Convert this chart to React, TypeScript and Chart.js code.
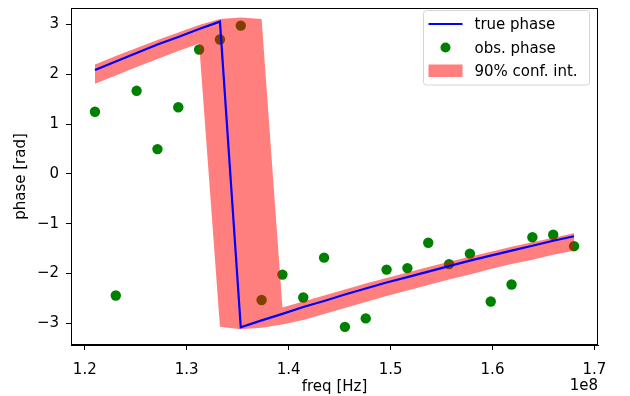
import React, { useEffect, useRef } from 'react';
import { Chart, registerables } from 'chart.js';

Chart.register(...registerables);

// frequencies [Hz]
const freqHz = [
  121000000, 123043478, 125086957, 127130435, 129173913, 131217391,
  133260870, 135304348, 137347826, 139391304, 141434783, 143478261,
  145521739, 147565217, 149608696, 151652174, 153695652, 155739130,
  157782609, 159826087, 161869565, 163913043, 165956522, 168000000,
];

// true phase [rad]
const truePhase = [
  2.09, 2.26, 2.43, 2.60, 2.75, 2.91, 3.06, -3.08, -2.94, -2.81, -2.67, -2.55,
  -2.42, -2.30, -2.18, -2.07, -1.96, -1.85, -1.74, -1.64, -1.54, -1.44, -1.34, -1.25,
];

// observed phase [rad]
const obsPhase = [
  1.25, -2.44, 1.67, 0.50, 1.34, 2.50, 2.70, 2.98, -2.53, -2.02, -2.48, -1.68,
  -3.07, -2.90, -1.92, -1.89, -1.38, -1.81, -1.60, -2.56, -2.22, -1.27, -1.22, -1.45,
];

// 90% confidence interval bounds [rad]
const confUpper = [
  2.20, 2.37, 2.53, 2.69, 2.84, 2.99, 3.11, 3.14, 3.11, -2.68, -2.56, -2.44,
  -2.32, -2.20, -2.09, -1.98, -1.87, -1.76, -1.66, -1.56, -1.46, -1.37, -1.28, -1.19,
];
const confLower = [
  1.81, 1.98, 2.15, 2.31, 2.47, 2.62, -3.07, -3.12, -3.09, -3.02, -2.93, -2.81,
  -2.69, -2.57, -2.45, -2.34, -2.23, -2.12, -2.02, -1.91, -1.81, -1.72, -1.62, -1.54,
];

// axis ticks
const xTickValues = [120000000, 130000000, 140000000, 150000000, 160000000, 170000000];
const xTickLabels = ['1.2', '1.3', '1.4', '1.5', '1.6', '1.7'];
const yTickValues = [-3, -2, -1, 0, 1, 2, 3];
const yTickLabels = ['\u22123', '\u22122', '\u22121', '0', '1', '2', '3'];

const legendLabels = ['true phase', 'obs. phase', '90% conf. int.'];
const xLabel = 'freq [Hz]';
const yLabel = 'phase [rad]';
const xOffsetText = '1e8';

const FONT = "'DejaVu Sans', sans-serif";

const pts = (ys: number[]) => freqHz.map((f, i) => ({ x: f, y: ys[i] }));

const framePlugin = {
  id: 'mplFrame',
  afterDatasetsDraw(chart: any) {
    const { ctx, chartArea: a } = chart;
    ctx.save();
    ctx.strokeStyle = '#000';
    ctx.lineWidth = 1;
    ctx.strokeRect(Math.round(a.left) + 0.5, Math.round(a.top) + 0.5, Math.round(a.right - a.left) - 1, Math.round(a.bottom - a.top) - 1);
    ctx.restore();
  },
  afterDraw(chart: any) {
    const { ctx, chartArea: a } = chart;
    ctx.save();
    // offset text
    ctx.font = `15px ${FONT}`;
    ctx.fillStyle = '#000';
    ctx.textAlign = 'right';
    ctx.textBaseline = 'alphabetic';
    ctx.fillText(xOffsetText, a.right, 389.5);

    // legend
    const bx = a.right - 174.5;
    const by = a.top + 2.5;
    const bw = 166;
    const bh = 74.5;
    ctx.beginPath();
    const r = 3;
    ctx.moveTo(bx + r, by);
    ctx.lineTo(bx + bw - r, by);
    ctx.arcTo(bx + bw, by, bx + bw, by + r, r);
    ctx.lineTo(bx + bw, by + bh - r);
    ctx.arcTo(bx + bw, by + bh, bx + bw - r, by + bh, r);
    ctx.lineTo(bx + r, by + bh);
    ctx.arcTo(bx, by + bh, bx, by + bh - r, r);
    ctx.lineTo(bx, by + r);
    ctx.arcTo(bx, by, bx + r, by, r);
    ctx.closePath();
    ctx.fillStyle = 'rgba(255,255,255,0.8)';
    ctx.fill();
    ctx.strokeStyle = '#d5d5d5';
    ctx.lineWidth = 1;
    ctx.stroke();

    const hx0 = bx + 5;
    const hx1 = bx + 39;
    const rows = [by + 13.5, by + 37, by + 60.5];
    // true phase line
    ctx.strokeStyle = '#0000ff';
    ctx.lineWidth = 2.2;
    ctx.beginPath();
    ctx.moveTo(hx0, rows[0]);
    ctx.lineTo(hx1, rows[0]);
    ctx.stroke();
    // obs point
    ctx.fillStyle = '#008000';
    ctx.beginPath();
    ctx.arc((hx0 + hx1) / 2, rows[1], 5, 0, Math.PI * 2);
    ctx.fill();
    // conf patch
    ctx.fillStyle = 'rgba(255,0,0,0.5)';
    ctx.fillRect(hx0, rows[2] - 6.5, hx1 - hx0, 12.5);

    ctx.fillStyle = '#000';
    ctx.textAlign = 'left';
    ctx.textBaseline = 'alphabetic';
    legendLabels.forEach((t, i) => {
      ctx.fillText(t, bx + 51, rows[i] + 5);
    });
    ctx.restore();
  },
};

export default function App() {
  const ref = useRef<HTMLCanvasElement | null>(null);

  useEffect(() => {
    const canvas = ref.current;
    if (!canvas) return;
    const tickFont = { family: FONT, size: 15 };
    const chart = new Chart(canvas, {
      type: 'line',
      data: {
        datasets: [
          {
            label: legendLabels[0],
            data: pts(truePhase),
            borderColor: '#0000ff',
            borderWidth: 2.2,
            pointRadius: 0,
            fill: false,
            tension: 0,
            order: 0,
          },
          {
            label: 'upper',
            data: pts(confUpper),
            borderColor: 'rgba(0,0,0,0)',
            borderWidth: 0,
            pointRadius: 0,
            backgroundColor: 'rgba(255,0,0,0.5)',
            fill: '+1',
            tension: 0,
            order: 1,
          },
          {
            label: 'lower',
            data: pts(confLower),
            borderColor: 'rgba(0,0,0,0)',
            borderWidth: 0,
            pointRadius: 0,
            fill: false,
            tension: 0,
            order: 1,
          },
          {
            type: 'scatter',
            label: legendLabels[1],
            data: pts(obsPhase),
            backgroundColor: '#008000',
            borderColor: '#008000',
            borderWidth: 0,
            pointRadius: 5.2,
            showLine: false,
            order: 2,
          } as any,
        ],
      },
      options: {
        animation: false,
        responsive: false,
        devicePixelRatio: 1,
        events: [],
        layout: { padding: { left: 0, right: 32, top: 8, bottom: 0 } },
        plugins: {
          legend: { display: false },
          tooltip: { enabled: false },
        },
        scales: {
          x: {
            type: 'linear',
            bounds: 'data',
            min: 118650000,
            max: 170350000,
            afterBuildTicks: (s: any) => {
              s.ticks = xTickValues.map((v) => ({ value: v }));
            },
            afterFit: (s: any) => {
              s.height = 51;
              s.paddingLeft = 0;
              s.paddingRight = 0;
            },
            ticks: {
              autoSkip: false,
              color: '#000',
              font: tickFont,
              padding: 11,
              maxRotation: 0,
              callback: (v: any) => {
                const i = xTickValues.indexOf(Number(v));
                return i >= 0 ? xTickLabels[i] : '';
              },
            },
            grid: { display: true, drawOnChartArea: false, drawTicks: true, tickLength: 5, tickColor: '#000', tickWidth: 1 },
            border: { display: true, color: '#000', width: 1 },
            title: { display: true, text: xLabel, color: '#000', font: tickFont, padding: { top: 0, bottom: -0.5 } },
          },
          y: {
            type: 'linear',
            bounds: 'data',
            min: -3.434,
            max: 3.333,
            afterBuildTicks: (s: any) => {
              s.ticks = yTickValues.map((v) => ({ value: v }));
            },
            afterFit: (s: any) => {
              s.width = 71;
              s.paddingTop = 0;
              s.paddingBottom = 0;
            },
            ticks: {
              autoSkip: false,
              color: '#000',
              font: tickFont,
              padding: 7,
              callback: (v: any) => {
                const i = yTickValues.indexOf(Number(v));
                return i >= 0 ? yTickLabels[i] : '';
              },
            },
            grid: { display: true, drawOnChartArea: false, drawTicks: true, tickLength: 5, tickColor: '#000', tickWidth: 1 },
            border: { display: true, color: '#000', width: 1 },
            title: { display: true, text: yLabel, color: '#000', font: tickFont, padding: { top: 12, bottom: 0 } },
          },
        },
      },
      plugins: [framePlugin],
    });
    return () => chart.destroy();
  }, []);

  return (
    <div style={{ position: 'fixed', left: 0, top: 0, width: 630, height: 396, background: '#fff' }}>
      <canvas ref={ref} width={630} height={396} style={{ width: 630, height: 396, display: 'block' }} />
    </div>
  );
}
